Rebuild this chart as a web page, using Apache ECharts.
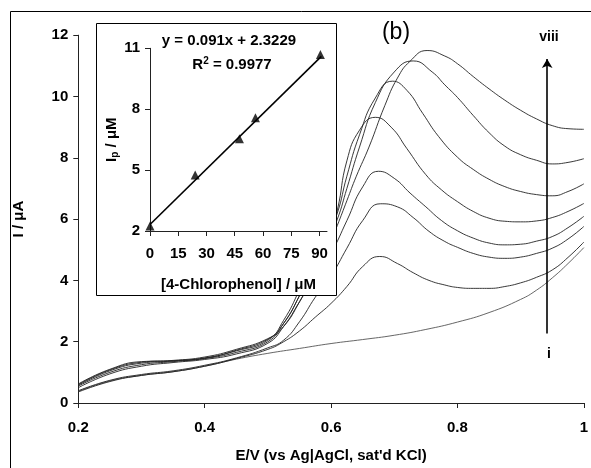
<!DOCTYPE html>
<html>
<head>
<meta charset="utf-8">
<script src="https://cdn.jsdelivr.net/npm/echarts@6/dist/echarts.min.js"></script>
<style>
html,body{margin:0;padding:0;background:#fff;}
#chart{width:591px;height:468px;}
</style>
</head>
<body>
<div id="chart"></div>
<script>
// ---- main chart data: potential E (V) and current I (µA) for curves i..viii ----
const leftE = [0.20,0.25,0.30,0.35,0.40,0.45,0.50,0.525,0.55,0.575];

const E_i    = [0.20,0.25,0.30,0.35,0.40,0.45,0.50,0.55,0.60,0.65,0.70,0.75,0.80,0.85,0.90,0.925,0.95,0.975,1.00];
const I_i    = [0.38,0.72,0.90,1.02,1.20,1.43,1.62,1.78,1.94,2.07,2.21,2.40,2.64,2.95,3.38,3.68,4.08,4.55,5.07];

const E_ii   = leftE.concat([0.60,0.625,0.65,0.677,0.705,0.73,0.755,0.78,0.80,0.825,0.85,0.875,0.90,0.925,0.95,0.975,1.00]);
const I_ii   = [0.36,0.70,0.90,1.02,1.20,1.45,1.75,2.00,2.35,2.80, 3.25,3.80,4.45,4.78,4.55,4.25,4.00,3.85,3.77,3.74,3.74,3.80,3.92,4.10,4.34,4.75,5.25];

const E_iii  = leftE.concat([0.60,0.625,0.65,0.678,0.705,0.73,0.755,0.78,0.80,0.825,0.85,0.875,0.90,0.925,0.95,0.975,1.00]);
const I_iii  = [0.40,0.74,0.93,1.05,1.23,1.47,1.80,2.05,2.65,3.45, 4.15,5.05,5.95,6.50,6.40,6.05,5.60,5.27,5.08,4.88,4.76,4.72,4.76,4.88,5.05,5.35,5.76];

const E_iv   = leftE.concat([0.60,0.625,0.65,0.675,0.70,0.725,0.75,0.775,0.80,0.825,0.85,0.875,0.90,0.925,0.95,0.975,1.00]);
const I_iv   = [0.50,0.95,1.20,1.32,1.42,1.60,1.95,2.50,3.30,4.15, 4.90,5.95,7.05,7.56,7.33,6.85,6.40,5.95,5.62,5.38,5.22,5.16,5.18,5.28,5.43,5.72,6.09];

const E_v    = leftE.concat([0.60,0.61,0.625,0.645,0.67,0.695,0.72,0.75,0.775,0.80,0.825,0.85,0.875,0.90,0.925,0.95,0.975,1.00]);
const I_v    = [0.55,1.00,1.25,1.35,1.45,1.65,2.00,2.60,3.50,4.60, 5.70,6.30,7.90,8.90,9.32,9.00,8.30,7.45,6.95,6.57,6.25,6.03,5.93,5.91,5.94,6.05,6.25,6.51];

const E_vi   = leftE.concat([0.60,0.61,0.625,0.645,0.67,0.697,0.72,0.745,0.77,0.80,0.825,0.85,0.875,0.90,0.925,0.95,0.975,1.00]);
const I_vi   = [0.58,1.05,1.30,1.37,1.47,1.70,2.05,2.70,3.70,4.90, 5.80,6.20,7.40,8.75,9.95,10.50,10.20,9.45,8.70,8.02,7.62,7.30,7.06,6.90,6.80,6.76,6.90,7.15];

const E_vii  = leftE.concat([0.60,0.61,0.625,0.645,0.67,0.70,0.73,0.76,0.78,0.80,0.825,0.85,0.875,0.90,0.925,0.95,0.975,1.00]);
const I_vii  = [0.62,1.10,1.35,1.38,1.46,1.72,2.08,2.60,3.50,4.60, 5.60,6.00,7.00,8.35,9.80,10.80,11.16,10.80,10.38,9.97,9.38,8.82,8.38,8.10,7.92,7.80,7.85,7.97];

const E_viii = leftE.concat([0.60,0.61,0.625,0.64,0.66,0.685,0.705,0.725,0.752,0.78,0.80,0.825,0.85,0.875,0.90,0.925,0.95,0.975,1.00]);
const I_viii = [0.60,1.08,1.33,1.39,1.50,1.75,2.10,2.50,3.30,4.30, 5.30,5.80,6.60,7.40,8.35,9.70,10.60,11.15,11.50,11.32,11.07,10.65,10.25,9.88,9.55,9.27,9.05,8.95,8.93];

const curveNames = ['i','ii','iii','iv','v','vi','vii','viii'];
const curveE = [E_i,E_ii,E_iii,E_iv,E_v,E_vi,E_vii,E_viii];
const curveI = [I_i,I_ii,I_iii,I_iv,I_v,I_vi,I_vii,I_viii];

// ---- inset data: calibration ----
const concentration = [0, 24, 47.5, 56, 90.5];
const peakCurrent   = [2.25, 4.76, 6.54, 7.58, 10.7];
const trendX = [0, 91];
const trendY = [2.32, 10.6];
const insetXTicks = [0, 15, 30, 45, 60, 75, 90];

const FONT = '"Liberation Sans", Arial, sans-serif';

const chart = echarts.init(document.getElementById('chart'), null, {renderer: 'canvas'});

const mainSeries = curveNames.map((nm, k) => ({
  type: 'line',
  name: nm,
  xAxisIndex: 0, yAxisIndex: 0,
  data: curveE[k].map((e, j) => [e, curveI[k][j]]),
  showSymbol: false,
  smooth: 0.5,
  lineStyle: {color: k === 0 ? '#555' : '#222', width: 0.9},
  z: 2,
  silent: true
}));

// arrow i -> viii
mainSeries[7].markLine = {
  silent: true,
  symbol: ['none', 'arrow'],
  symbolSize: [8, 9],
  label: {show: false},
  lineStyle: {color: '#000', width: 1.6, type: 'solid'},
  data: [[{coord: [0.942, 2.27]}, {coord: [0.942, 11.22]}]]
};

const option = {
  animation: false,
  backgroundColor: '#fff',
  textStyle: {fontFamily: FONT},
  grid: [
    {left: 78.3, right: 4.7, top: 35.2, bottom: 65},
    {left: 150, width: 177, top: 48.3, height: 182.7, z: 12}
  ],
  xAxis: [
    {
      gridIndex: 0, type: 'value', min: 0.2, max: 1, interval: 0.2,
      axisLine: {lineStyle: {color: '#222', width: 1}},
      axisTick: {length: 5, lineStyle: {color: '#222'}},
      splitLine: {show: false},
      axisLabel: {color: '#000', fontWeight: 'bold', fontSize: 15, margin: 17,
        formatter: v => String(Math.round(v * 10) / 10)},
      name: "E/V (vs Ag|AgCl, sat'd KCl)",
      nameLocation: 'middle', nameGap: 45,
      nameTextStyle: {color: '#000', fontWeight: 'bold', fontSize: 15}
    },
    {
      gridIndex: 1, type: 'value', min: 0, max: 94, z: 12,
      axisLine: {lineStyle: {color: '#222', width: 1}},
      axisTick: {length: 5, customValues: insetXTicks, lineStyle: {color: '#222'}},
      splitLine: {show: false},
      axisLabel: {color: '#000', fontWeight: 'bold', fontSize: 15, margin: 15, customValues: insetXTicks},
      name: '[4-Chlorophenol] / μM',
      nameLocation: 'middle', nameGap: 46,
      nameTextStyle: {color: '#000', fontWeight: 'bold', fontSize: 15}
    }
  ],
  yAxis: [
    {
      gridIndex: 0, type: 'value', min: 0, max: 12, interval: 2,
      axisLine: {show: true, lineStyle: {color: '#222', width: 1}},
      axisTick: {show: true, length: 5, lineStyle: {color: '#222'}},
      splitLine: {show: false},
      axisLabel: {color: '#000', fontWeight: 'bold', fontSize: 15, margin: 10},
      name: 'I / μA',
      nameLocation: 'middle', nameGap: 52, nameRotate: 90,
      nameTextStyle: {color: '#000', fontWeight: 'bold', fontSize: 15}
    },
    {
      gridIndex: 1, type: 'value', min: 2, max: 11, interval: 3, z: 12,
      axisLine: {show: true, lineStyle: {color: '#222', width: 1}},
      axisTick: {show: true, length: 5, lineStyle: {color: '#222'}},
      splitLine: {show: false},
      axisLabel: {color: '#000', fontWeight: 'bold', fontSize: 15, margin: 10},
      name: 'I{sub|p} / μM',
      nameLocation: 'middle', nameGap: 30, nameRotate: 90,
      nameTextStyle: {color: '#000', fontWeight: 'bold', fontSize: 15,
        rich: {sub: {fontSize: 10, fontWeight: 'bold', color: '#000', verticalAlign: 'bottom', padding: [6, 0, 0, 0]}}}
    }
  ],
  graphic: [
    {type: 'rect', z: 1, silent: true, shape: {x: 10.5, y: 11.5, width: 700, height: 600},
      style: {fill: 'none', stroke: '#000', lineWidth: 1}},
    {type: 'rect', z: 10, silent: true, shape: {x: 96.5, y: 23.5, width: 240, height: 272},
      style: {fill: '#fff', stroke: '#000', lineWidth: 1}},
    {type: 'text', z: 20, silent: true, x: 229, y: 41,
      style: {text: 'y = 0.091x + 2.3229', fill: '#000', font: 'bold 15px ' + FONT, align: 'center', verticalAlign: 'middle'}},
    {type: 'text', z: 20, silent: true, x: 232, y: 65,
      style: {text: 'R{sup|2} = 0.9977', fill: '#000', font: 'bold 15px ' + FONT, align: 'center', verticalAlign: 'middle',
        rich: {sup: {fontSize: 10, fontWeight: 'bold', fill: '#000', verticalAlign: 'top', padding: [0, 0, 8, 0], fontFamily: FONT}}}},
    {type: 'text', z: 20, silent: true, x: 396, y: 33,
      style: {text: '(b)', fill: '#000', font: '23px ' + FONT, align: 'center', verticalAlign: 'middle'}},
    {type: 'text', z: 20, silent: true, x: 549, y: 37,
      style: {text: 'viii', fill: '#000', font: 'bold 14px ' + FONT, align: 'center', verticalAlign: 'middle'}},
    {type: 'text', z: 20, silent: true, x: 549, y: 354,
      style: {text: 'i', fill: '#000', font: 'bold 14px ' + FONT, align: 'center', verticalAlign: 'middle'}}
  ],
  series: mainSeries.concat([
    {
      type: 'line', xAxisIndex: 1, yAxisIndex: 1, z: 14,
      data: trendX.map((x, j) => [x, trendY[j]]),
      showSymbol: false, lineStyle: {color: '#000', width: 1.6}, silent: true
    },
    {
      type: 'scatter', xAxisIndex: 1, yAxisIndex: 1, z: 15,
      data: concentration.map((x, j) => [x, peakCurrent[j]]),
      symbol: 'triangle', symbolSize: 9, itemStyle: {color: '#000'}, silent: true
    }
  ])
};
chart.setOption(option);
</script>
</body>
</html>
